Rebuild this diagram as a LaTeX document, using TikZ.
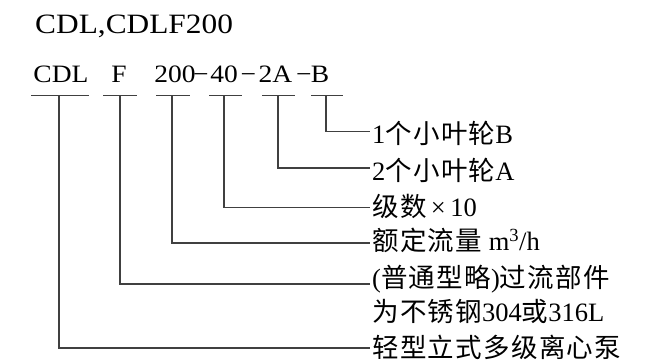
\documentclass[tikz,border=0pt]{standalone}
\usepackage{fontspec}
\setmainfont{Liberation Serif}
\newfontfamily\cjk{Noto Sans CJK SC}[LetterSpace=5]
\newfontfamily\widefont{Liberation Serif}[FakeStretch=1.12]
\newfontfamily\codefont{Liberation Serif}[FakeStretch=1.1]
\begin{document}
\begin{tikzpicture}[x=1pt,y=-1pt,
  conn/.style={draw=black!75,line width=1.1pt},
  lbl/.style={anchor=base west,inner sep=0pt,font=\fontsize{26.5}{30}\selectfont},
  code/.style={anchor=base,inner sep=0pt,font=\codefont\fontsize{25}{28}\selectfont},
  title/.style={anchor=base west,inner sep=0pt,font=\widefont\fontsize{28}{32}\selectfont}]
\useasboundingbox (0,0) rectangle (657,361);
% title
\node[title] (t) at (35,34) {CDL,CDLF200};
% code row
\node[code] (cdl) at (61,83) {CDL};
\node[code] (f) at (119,83) {F};
\node[code] (n200) at (175,83) {200};
\node[code] (m1) at (201,83) {−};
\node[code] (n40) at (224,83) {40};
\node[code] (m2) at (248.5,83) {−};
\node[code] (n2a) at (275.5,83) {2A};
\node[code] (m3) at (304,83) {−};
\node[code] (nb) at (320,83) {B};
% underline coordinates
\coordinate (u1a) at (31,95.5);  \coordinate (u1b) at (89,95.5);  \coordinate (v1) at (59,95.5);
\coordinate (u2a) at (103,95.5); \coordinate (u2b) at (137,95.5); \coordinate (v2) at (120,95.5);
\coordinate (u3a) at (156,95.5); \coordinate (u3b) at (190,95.5); \coordinate (v3) at (172,95.5);
\coordinate (u4a) at (209,95.5); \coordinate (u4b) at (242,95.5); \coordinate (v4) at (224,95.5);
\coordinate (u5a) at (262,95.5); \coordinate (u5b) at (295,95.5); \coordinate (v5) at (278,95.5);
\coordinate (u6a) at (311,95.5); \coordinate (u6b) at (343,95.5); \coordinate (v6) at (326,95.5);
\foreach \i in {1,...,6} {\draw[conn] (u\i a) -- (u\i b);}
% line ends
\coordinate (e6) at (370,131.5);
\coordinate (e5) at (370,168);
\coordinate (e4) at (370,207.5);
\coordinate (e3) at (370,243);
\coordinate (e2) at (370,284);
\coordinate (e1) at (370,348);
\draw[conn] (v6) |- (e6);
\draw[conn] (v5) |- (e5);
\draw[conn] (v4) |- (e4);
\draw[conn] (v3) |- (e3);
\draw[conn] (v2) |- (e2);
\draw[conn] (v1) |- (e1);
% labels
\node[lbl] (l6) at (372,144) {1{\cjk 个小叶轮}B};
\node[lbl] (l5) at (372,180) {2{\cjk 个小叶轮}A};
\node[lbl] (l4) at (372,216) {{\cjk 级数}\,×\,10};
\node[lbl] (l3) at (372,251) {{\cjk 额定流量}\ m\textsuperscript{3}/h};
\node[lbl] (l2) at (372,287.5) {({\cjk 普通型略}){\cjk 过流部件}};
\node[lbl] (l2b) at (372,321) {{\cjk 为不锈钢}304{\cjk 或}316L};
\node[lbl] (l1) at (372,357.5) {{\cjk 轻型立式多级离心泵}};
\end{tikzpicture}
\end{document}
